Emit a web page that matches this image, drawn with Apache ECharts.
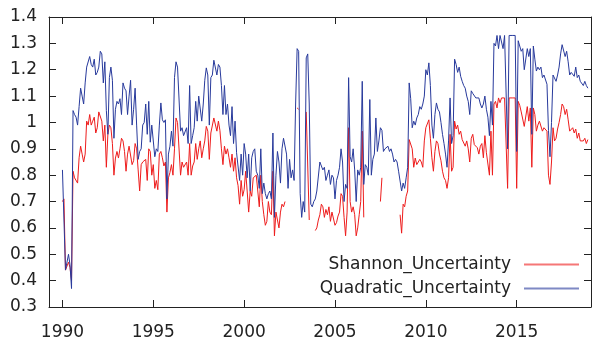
<!DOCTYPE html>
<html>
<head>
<meta charset="utf-8">
<script src="https://cdn.jsdelivr.net/npm/echarts@6/dist/echarts.min.js"></script>
<style>
html,body{margin:0;padding:0;background:#fff;}
#chart{width:593px;height:341px;}
</style>
</head>
<body>
<div id="chart"></div>
<script>
// Monthly series starting January 1990
const startYear = 1990;
const seriesNames = ["Shannon_Uncertainty", "Quadratic_Uncertainty"];
const xTicks = [1990, 1995, 2000, 2005, 2010, 2015];
const yTicks = [0.3, 0.4, 0.5, 0.6, 0.7, 0.8, 0.9, 1.0, 1.1, 1.2, 1.3, 1.4];

const shannon = [
  0.70,0.71,0.44,0.44,0.47,0.45,0.40,0.815,0.79,0.785,0.77,0.866,
  0.91,0.88,0.85,0.88,1.005,0.99,1.03,0.99,1.005,1.02,0.96,0.98,
  1.04,1.035,1.005,0.93,0.99,0.83,0.955,0.99,0.98,0.92,0.80,0.865,
  0.89,0.865,0.90,0.94,0.93,0.89,0.815,0.88,0.91,0.91,0.84,0.855,
  0.92,0.90,0.82,0.74,0.84,0.85,0.85,0.86,0.78,0.90,0.89,0.80,
  0.84,0.75,0.78,0.745,0.88,0.89,0.866,0.835,0.85,0.66,0.79,0.81,
  0.84,0.80,0.90,1.017,1.00,1.00,0.80,0.85,0.83,0.835,0.85,0.80,
  0.92,0.80,0.835,0.85,0.92,0.86,0.90,0.93,0.866,0.90,0.93,0.985,
  0.967,0.86,0.96,0.967,1.017,1.01,0.967,1.005,0.97,0.90,0.84,0.91,
  0.88,0.90,0.866,0.83,0.88,0.815,0.866,0.79,0.76,0.69,0.78,0.72,
  0.745,0.815,0.74,0.66,0.74,0.72,0.79,0.785,0.80,0.74,0.68,0.80,
  0.70,0.65,0.61,0.625,0.70,0.66,0.65,0.815,0.57,0.66,0.66,0.60,
  0.66,0.69,0.68,0.70,null,null,null,null,null,null,null,1.055,
  1.05,null,null,null,null,1.04,1.04,0.63,null,null,null,0.59,
  0.60,0.63,0.65,0.69,0.68,0.64,0.67,0.65,0.68,0.625,0.66,0.66,
  0.61,0.62,0.645,0.66,0.73,0.72,0.64,0.57,0.66,0.98,0.70,0.66,
  0.68,0.65,0.57,0.60,0.65,0.70,0.967,0.64,null,null,null,null,
  null,null,null,null,null,null,0.70,0.79,null,null,null,null,
  null,null,null,null,null,null,null,0.65,0.58,0.69,0.68,0.72,
  0.74,0.935,0.93,0.90,0.83,0.865,0.84,0.845,0.86,0.85,0.83,0.93,
  0.98,0.985,1.01,0.94,0.866,0.815,0.89,0.93,0.92,0.88,0.855,0.815,
  0.79,0.78,0.75,0.79,0.955,0.815,0.83,1.005,0.975,0.99,0.955,0.967,
  0.935,0.93,0.91,0.93,0.90,0.85,0.94,0.955,0.916,0.916,0.904,0.88,
  0.91,0.92,0.866,0.95,0.885,0.88,0.80,0.967,0.80,1.07,1.08,1.055,
  1.093,1.075,1.093,1.093,1.093,1.093,0.75,1.093,1.093,1.093,1.093,1.093,
  0.75,1.08,1.065,1.04,1.045,0.985,0.99,1.06,1.005,1.055,0.83,1.055,
  1.03,0.967,0.99,1.005,1.0,0.967,0.98,0.975,0.967,0.80,0.765,0.85,
  0.98,0.93,0.94,0.975,1.0,1.03,1.07,1.06,1.03,1.05,1.01,0.967,
  0.967,0.98,0.96,0.975,0.94,0.96,0.93,0.935,0.93,0.94,0.92,0.935
];

const quadratic = [
  0.82,0.82,0.44,0.44,0.50,0.46,0.37,1.045,1.03,1.02,0.99,1.06,
  1.13,1.10,1.07,1.15,1.21,1.21,1.25,1.22,1.21,1.24,1.18,1.19,
  1.21,1.27,1.26,1.15,1.23,1.045,0.955,1.17,1.21,1.16,0.94,1.05,
  1.08,1.07,1.09,1.03,1.15,1.13,1.12,1.03,1.10,1.16,0.99,1.05,
  1.13,0.99,0.86,0.89,0.90,0.99,1.00,1.07,0.955,1.08,0.925,0.99,
  0.99,0.87,0.90,0.89,0.99,1.074,1.01,1.00,1.01,0.71,0.88,0.91,
  0.967,0.91,1.17,1.23,1.21,1.21,0.967,0.98,0.95,0.95,0.98,0.92,
  1.14,0.92,0.95,0.98,1.08,1.005,1.10,1.106,1.005,1.07,1.16,1.207,
  1.18,0.99,1.17,1.18,1.236,1.236,1.18,1.22,1.21,1.14,1.03,1.14,
  1.03,1.07,0.99,0.95,1.06,0.92,1.005,0.885,0.88,0.78,0.88,0.80,
  0.92,0.88,0.79,0.88,0.74,0.866,0.89,0.90,0.815,0.80,0.75,0.90,
  0.73,0.77,0.73,0.71,0.73,0.74,0.71,0.96,0.64,0.80,0.89,0.85,
  0.77,0.90,0.94,0.935,0.88,0.75,0.86,0.79,0.82,0.78,1.07,1.28,
  1.27,0.73,0.64,0.70,0.66,1.245,1.26,1.07,0.69,0.68,0.70,0.71,
  0.74,0.74,0.85,0.855,0.82,0.83,0.78,0.80,0.82,0.765,0.80,0.79,
  0.71,0.78,0.80,0.83,0.90,0.85,0.70,0.765,0.75,1.17,0.87,0.85,
  0.90,0.82,0.70,0.82,0.80,0.83,1.156,0.765,0.84,0.83,0.80,1.087,
  0.80,0.86,0.88,1.017,0.89,0.93,0.98,0.97,0.89,0.90,0.90,0.91,
  0.89,0.90,0.88,0.85,0.86,0.85,0.815,0.82,0.74,0.77,0.75,0.79,
  0.83,1.15,1.09,0.98,1.005,0.99,1.017,1.03,1.06,1.05,1.07,1.10,
  1.20,1.18,1.226,1.14,0.99,0.94,1.03,1.074,1.05,1.04,1.00,0.955,
  0.92,0.88,0.83,0.93,1.093,0.92,0.95,1.24,1.22,1.19,1.21,1.175,
  1.156,1.14,1.13,1.10,1.08,1.03,1.12,1.11,1.105,1.093,1.10,1.093,
  1.07,1.055,1.07,1.10,1.05,1.02,0.95,1.08,0.99,1.30,1.29,1.33,
  1.28,1.33,1.33,1.28,1.33,1.33,0.90,1.33,1.33,1.33,1.33,1.33,
  0.89,1.31,1.315,1.27,1.28,1.20,1.20,1.28,1.25,1.28,0.955,1.29,
  1.24,1.195,1.21,1.20,1.21,1.17,1.18,1.175,1.145,0.97,0.87,1.00,
  1.18,1.18,1.156,1.18,1.21,1.26,1.295,1.29,1.25,1.27,1.23,1.18,
  1.19,1.19,1.175,1.21,1.17,1.18,1.156,1.16,1.14,1.156,1.14,1.13
];

function toPairs(arr) {
  return arr.map((v, i) => [startYear + i / 12, v]);
}

const FONT = "DejaVu Sans";
const INK = "#222";
const RED = '#ee1c1c';
const BLUE = '#283a9c';
const chart = echarts.init(document.getElementById('chart'), null, {renderer: 'canvas'});

const xBase = {
  type: 'value', min: 1989.26, max: 2019.09,
  splitLine: {show: false},
  axisLine: {show: true, onZero: false, lineStyle: {color: INK, width: 1}},
  axisTick: {show: true, inside: true, length: 7, customValues: xTicks, lineStyle: {color: INK}},
  minorTick: {show: false}
};
const yBase = {
  type: 'value', min: 0.3, max: 1.4, interval: 0.1,
  splitLine: {show: false},
  axisLine: {show: true, onZero: false, lineStyle: {color: INK, width: 1}},
  axisTick: {show: true, inside: true, length: 7, lineStyle: {color: INK}}
};

chart.setOption({
  backgroundColor: '#fff',
  animation: false,
  textStyle: {fontFamily: FONT},
  grid: {left: 49, right: 2, top: 17, bottom: 33, containLabel: false},
  legend: {
    orient: 'vertical', align: 'right', right: 9, top: 251,
    icon: 'rect', itemWidth: 55, itemHeight: 2, itemGap: 7,
    textStyle: {fontFamily: FONT, fontSize: 17, color: INK, padding: [0, 8, 0, 0]},
    data: [
      {name: seriesNames[0], itemStyle: {color: RED, opacity: 0.6}},
      {name: seriesNames[1], itemStyle: {color: BLUE, opacity: 0.6}}
    ]
  },
  xAxis: [
    Object.assign({}, xBase, {
      position: 'bottom',
      axisLabel: {show: true, customValues: xTicks, fontFamily: FONT, fontSize: 17, color: INK, margin: 17,
                  formatter: v => String(Math.round(v))}
    }),
    Object.assign({}, xBase, {position: 'top', axisLabel: {show: false}})
  ],
  yAxis: [
    Object.assign({}, yBase, {
      position: 'left',
      axisLabel: {show: true, fontFamily: FONT, fontSize: 17, color: INK, margin: 12,
                  formatter: v => String(+(+v).toFixed(1))}
    }),
    Object.assign({}, yBase, {position: 'right', axisLabel: {show: false}})
  ],
  series: [
    {
      name: seriesNames[0], type: 'line', xAxisIndex: 0, yAxisIndex: 0,
      data: toPairs(shannon), symbol: 'none', connectNulls: false,
      lineStyle: {color: RED, width: 1}, itemStyle: {color: RED}
    },
    {
      name: seriesNames[1], type: 'line', xAxisIndex: 0, yAxisIndex: 0,
      data: toPairs(quadratic), symbol: 'none', connectNulls: false,
      lineStyle: {color: BLUE, width: 1}, itemStyle: {color: BLUE}
    }
  ]
});
</script>
</body>
</html>
